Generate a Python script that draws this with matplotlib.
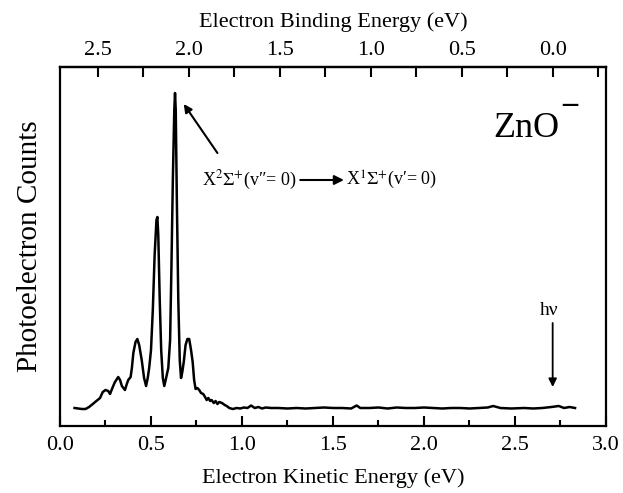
import matplotlib
matplotlib.use("Agg")
import matplotlib.pyplot as plt
from matplotlib.ticker import MultipleLocator

plt.rcParams['font.family'] = ['Liberation Serif', 'DejaVu Serif']
plt.rcParams['mathtext.fontset'] = 'stix'

# photon energy (eV), binding = hv - kinetic
hv = 2.707

# spectrum (kinetic energy, counts in arbitrary units)
ke = [0.08, 0.10, 0.12, 0.14, 0.16, 0.18, 0.20, 0.22, 0.235, 0.25,
      0.265, 0.275, 0.29, 0.302, 0.32, 0.33, 0.34, 0.357, 0.367, 0.375,
      0.388, 0.395, 0.403, 0.415, 0.425, 0.435, 0.449, 0.462, 0.473, 0.482,
      0.49, 0.50, 0.51, 0.52, 0.53, 0.535, 0.54, 0.548, 0.556, 0.565,
      0.573, 0.583, 0.595, 0.605, 0.612, 0.62, 0.628, 0.632, 0.636, 0.642,
      0.65, 0.658, 0.665, 0.672, 0.68, 0.69, 0.70, 0.71, 0.72, 0.729,
      0.737, 0.745, 0.755, 0.765, 0.775, 0.787, 0.797, 0.806, 0.815, 0.825,
      0.833, 0.845, 0.855, 0.865, 0.875, 0.89, 0.905, 0.916, 0.93, 0.95,
      0.97, 0.99, 1.01, 1.03, 1.05, 1.07, 1.09, 1.11, 1.13, 1.16,
      1.20, 1.25, 1.30, 1.35, 1.40, 1.45, 1.50, 1.55, 1.60, 1.63,
      1.65, 1.70, 1.75, 1.80, 1.85, 1.90, 1.95, 2.00, 2.05, 2.10,
      2.15, 2.20, 2.25, 2.30, 2.35, 2.38, 2.42, 2.48, 2.55, 2.60,
      2.65, 2.70, 2.74, 2.77, 2.80, 2.83]
counts = [0, -5, -10, -10, 10, 40, 70, 100, 160, 180,
          170, 140, 210, 260, 310, 280, 220, 180, 240, 280,
          310, 400, 550, 660, 690, 630, 480, 300, 220, 300,
          400, 580, 980, 1530, 1880, 1910, 1730, 1080, 580, 300,
          220, 300, 400, 680, 1380, 2280, 2980, 3150, 2980, 2080,
          1080, 480, 300, 360, 460, 630, 690, 690, 580, 460,
          280, 190, 200, 180, 150, 140, 110, 80, 100, 70,
          80, 50, 70, 40, 60, 50, 30, 20, 0, -10,
          0, -5, 5, 0, 25, 0, 10, -5, 5, 0,
          0, -5, 0, -5, 0, 5, 0, 0, -5, 25,
          0, 0, 5, -5, 5, 0, 0, 5, 0, -5,
          0, 0, -5, 0, 5, 20, 0, -5, 0, -5,
          0, 10, 20, 0, 10, 0]

ke_ticks = [0.0, 0.5, 1.0, 1.5, 2.0, 2.5, 3.0]
be_ticks = [2.5, 2.0, 1.5, 1.0, 0.5, 0.0]

fig = plt.figure(figsize=(6.23, 4.93), dpi=100)
ax = fig.add_axes([0.0963, 0.1359, 0.8764, 0.7282])

ax.plot(ke, counts, color='black', lw=1.8)

ax.set_xlim(0.0, 3.0)
ax.set_ylim(-180, 3410)
ax.set_xticks(ke_ticks)
ax.set_xticklabels(['%.1f' % t for t in ke_ticks])
ax.xaxis.set_minor_locator(MultipleLocator(0.25))
ax.set_yticks([])
ax.tick_params(axis='x', which='major', direction='in', length=7, width=1.5,
               labelsize=16, pad=7, top=False)
ax.tick_params(axis='x', which='minor', direction='in', length=4, width=1.5, top=False)
for s in ax.spines.values():
    s.set_linewidth(1.6)

ax.set_xlabel('Electron Kinetic Energy (eV)', fontsize=16, labelpad=10)
ax.set_ylabel('Photoelectron Counts', fontsize=21, labelpad=12)

top = ax.secondary_xaxis('top', functions=(lambda x: hv - x, lambda x: hv - x))
top.set_xticks(be_ticks)
top.set_xticklabels(['%.1f' % t for t in be_ticks])
top.xaxis.set_minor_locator(MultipleLocator(0.25))
top.tick_params(which='major', direction='in', length=7, width=1.5, labelsize=16, pad=5)
top.tick_params(which='minor', direction='in', length=7, width=1.5)
top.set_xlabel('Electron Binding Energy (eV)', fontsize=16, labelpad=10)
top.spines['top'].set_linewidth(1.6)

# species label
ax.text(2.38, 2710, 'ZnO', fontsize=26, ha='left', va='baseline')
ax.text(2.80, 3030, '\u2013', fontsize=22, ha='center', va='center', fontweight='bold')

# transition label with pointer
ax.annotate('', xy=(0.68, 3040), xytext=(0.865, 2550),
            arrowprops=dict(arrowstyle='-|>', color='black', lw=1.5,
                            mutation_scale=12, shrinkA=0, shrinkB=0))
ax.text(0.78, 2280, "X$^{2}\\Sigma^{+}$(v\u2033= 0)", fontsize=13, ha='left', va='center')
ax.annotate('', xy=(1.56, 2280), xytext=(1.32, 2280),
            arrowprops=dict(arrowstyle='-|>', color='black', lw=1.5,
                            mutation_scale=14, shrinkA=0, shrinkB=0))
ax.text(1.57, 2280, "X$^{1}\\Sigma^{+}$(v\u2032= 0)", fontsize=13, ha='left', va='center')

# photon energy marker
ax.text(hv - 0.02, 980, 'h\u03bd', fontsize=14, ha='center', va='center')
ax.annotate('', xy=(hv, 210), xytext=(hv, 850),
            arrowprops=dict(arrowstyle='-|>', color='black', lw=1.3,
                            mutation_scale=12, shrinkA=0, shrinkB=0))

fig.savefig('out.png', dpi=100)
